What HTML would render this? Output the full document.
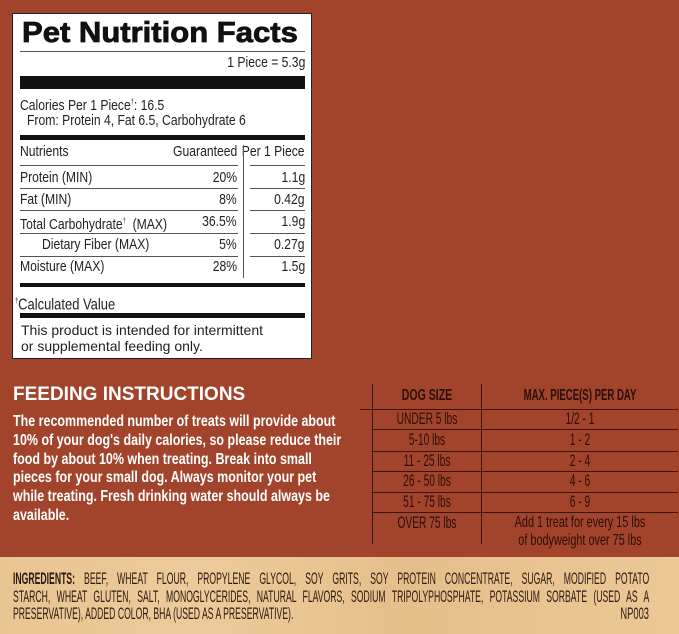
<!DOCTYPE html>
<html><head><meta charset="utf-8"><style>
*{margin:0;padding:0;box-sizing:border-box}
body{width:679px;height:634px;overflow:hidden;background:#a2432b;position:relative;font-family:"Liberation Sans",sans-serif}
.a{position:absolute;white-space:nowrap}
.n{font-size:15px;color:#222;line-height:16px;transform:scaleX(0.81);transform-origin:left}
.r{transform-origin:right}
.bar{position:absolute;background:#111}
.ln{position:absolute;background:#555;height:1px}
.t{color:#2a0f08;font-size:17px;line-height:18px;text-align:center;transform:scaleX(0.6)}
.hl{position:absolute;background:#3a150c;height:1px}
.ing{position:absolute;left:13px;width:1250px;font-size:17px;line-height:17px;color:#2a1a10;white-space:nowrap;text-align:justify;text-align-last:justify;transform:scaleX(0.509);transform-origin:left}
</style></head><body>
<div style="position:absolute;left:12px;top:13px;width:300px;height:346px;background:#fff;border:1px solid #222"></div>
<div class="a" style="left:22px;top:14px;font:900 29px/38px 'Liberation Sans',sans-serif;color:#111;transform:scaleX(1.07);transform-origin:left;-webkit-text-stroke:0.8px #111">Pet Nutrition Facts</div>
<div class="ln" style="left:20px;top:51px;width:285px"></div>
<div class="a n r" style="right:374px;top:55px">1 Piece = 5.3g</div>
<div class="bar" style="left:20px;top:76px;width:285px;height:13px"></div>
<div class="a n" style="left:20px;top:95px">Calories Per 1 Piece<sup style="font-size:7px">†</sup>: 16.5</div>
<div class="a n" style="left:27px;top:113px">From: Protein 4, Fat 6.5, Carbohydrate 6</div>
<div class="bar" style="left:20px;top:135px;width:285px;height:5px"></div>
<div class="a n" style="left:20px;top:144px">Nutrients</div>
<div class="a n r" style="right:442px;top:144px">Guaranteed</div>
<div class="a n r" style="right:374px;top:144px">Per 1 Piece</div>
<div style="position:absolute;left:243px;top:145px;width:1px;height:133px;background:#555"></div>
<div class="ln" style="left:20px;top:165px;width:218px"></div><div class="ln" style="left:250px;top:165px;width:55px"></div>
<div class="ln" style="left:20px;top:188px;width:218px"></div><div class="ln" style="left:250px;top:188px;width:55px"></div>
<div class="ln" style="left:20px;top:210px;width:218px"></div><div class="ln" style="left:250px;top:210px;width:55px"></div>
<div class="ln" style="left:20px;top:233px;width:218px"></div><div class="ln" style="left:250px;top:233px;width:55px"></div>
<div class="ln" style="left:20px;top:256px;width:218px"></div><div class="ln" style="left:250px;top:256px;width:55px"></div>
<div class="a n" style="left:20px;top:170px">Protein (MIN)</div><div class="a n r" style="right:442px;top:170px">20%</div><div class="a n r" style="right:374px;top:170px">1.1g</div>
<div class="a n" style="left:20px;top:192px">Fat (MIN)</div><div class="a n r" style="right:442px;top:192px">8%</div><div class="a n r" style="right:374px;top:192px">0.42g</div>
<div class="a n" style="left:20px;top:214px">Total Carbohydrate<sup style="font-size:7px">†</sup> &nbsp;(MAX)</div><div class="a n r" style="right:442px;top:214px">36.5%</div><div class="a n r" style="right:374px;top:214px">1.9g</div>
<div class="a n" style="left:42px;top:237px">Dietary Fiber (MAX)</div><div class="a n r" style="right:442px;top:237px">5%</div><div class="a n r" style="right:374px;top:237px">0.27g</div>
<div class="a n" style="left:20px;top:259px">Moisture (MAX)</div><div class="a n r" style="right:442px;top:259px">28%</div><div class="a n r" style="right:374px;top:259px">1.5g</div>
<div class="bar" style="left:20px;top:283px;width:285px;height:4px"></div>
<div class="a n" style="left:15px;top:294px;font-size:16px"><sup style="font-size:7px">†</sup>Calculated Value</div>
<div class="bar" style="left:20px;top:313px;width:285px;height:5px"></div>
<div class="a" style="left:21px;top:322px;font:14px/16px 'Liberation Sans',sans-serif;color:#222">This product is intended for intermittent<br>or supplemental feeding only.</div>

<div class="a" style="left:13px;top:384px;font:bold 19px/22px 'Liberation Sans',sans-serif;color:#fff">FEEDING INSTRUCTIONS</div>
<div class="a" style="left:13px;top:413px;font:bold 16px/18.8px 'Liberation Sans',sans-serif;color:#fff;transform:scaleX(0.78);transform-origin:left">The recommended number of treats will provide about<br>10% of your dog's daily calories, so please reduce their<br>food by about 10% when treating. Break into small<br>pieces for your small dog. Always monitor your pet<br>while treating. Fresh drinking water should always be<br>available.</div>

<div style="position:absolute;left:372px;top:384px;width:1px;height:160px;background:#3a150c"></div>
<div style="position:absolute;left:481px;top:384px;width:1px;height:160px;background:#3a150c"></div>
<div class="hl" style="left:360px;top:409px;width:318px"></div>
<div class="hl" style="left:372px;top:429px;width:306px"></div>
<div class="hl" style="left:372px;top:451px;width:306px"></div>
<div class="hl" style="left:372px;top:471px;width:306px"></div>
<div class="hl" style="left:372px;top:492px;width:306px"></div>
<div class="hl" style="left:372px;top:512px;width:306px"></div>
<div class="a t" style="left:373px;top:387px;width:108px;font-weight:bold;font-size:16px;transform:scaleX(0.66)">DOG SIZE</div>
<div class="a t" style="left:482px;top:387px;width:196px;font-weight:bold;font-size:16px;transform:scaleX(0.6)">MAX. PIECE(S) PER DAY</div>
<div class="a t" style="left:373px;top:410px;width:108px">UNDER 5 lbs</div><div class="a t" style="left:482px;top:410px;width:196px">1/2 - 1</div>
<div class="a t" style="left:373px;top:431px;width:108px">5-10 lbs</div><div class="a t" style="left:482px;top:431px;width:196px">1 - 2</div>
<div class="a t" style="left:373px;top:452px;width:108px">11 - 25 lbs</div><div class="a t" style="left:482px;top:452px;width:196px">2 - 4</div>
<div class="a t" style="left:373px;top:472px;width:108px">26 - 50 lbs</div><div class="a t" style="left:482px;top:472px;width:196px">4 - 6</div>
<div class="a t" style="left:373px;top:493px;width:108px">51 - 75 lbs</div><div class="a t" style="left:482px;top:493px;width:196px">6 - 9</div>
<div class="a t" style="left:373px;top:514px;width:108px">OVER 75 lbs</div><div class="a t" style="left:482px;top:514px;width:196px;font-size:16px;line-height:18px;transform:scaleX(0.68)">Add 1 treat for every 15 lbs<br>of bodyweight over 75 lbs</div>

<div style="position:absolute;left:0;top:557px;width:679px;height:77px;background:linear-gradient(90deg,#e9c592,#eccb9a 30%,#e5bf8a 60%,#ebc896)"></div>
<div class="ing" style="top:570px"><b>INGREDIENTS:</b> BEEF, WHEAT FLOUR, PROPYLENE GLYCOL, SOY GRITS, SOY PROTEIN CONCENTRATE, SUGAR, MODIFIED POTATO</div>
<div class="ing" style="top:588px">STARCH, WHEAT GLUTEN, SALT, MONOGLYCERIDES, NATURAL FLAVORS, SODIUM TRIPOLYPHOSPHATE, POTASSIUM SORBATE (USED AS A</div>
<div class="ing" style="top:605px;text-align-last:left;text-align:left">PRESERVATIVE), ADDED COLOR, BHA (USED AS A PRESERVATIVE).</div>
<div class="a" style="right:30px;top:605px;font-size:17px;line-height:17px;color:#2a1a10;transform:scaleX(0.55);transform-origin:right">NP003</div>
</body></html>
